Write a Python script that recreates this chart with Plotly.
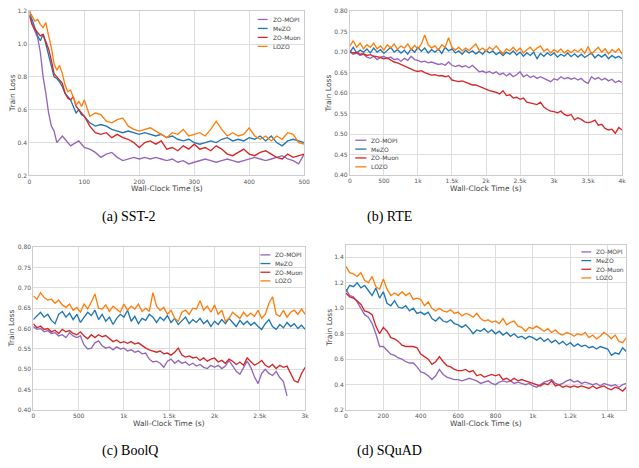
import plotly.graph_objects as go

W, H = 639, 468

# ---------------- data ----------------
names = ["ZO-MOPI", "MeZO", "ZO-Muon", "LOZO"]
colors = ["#9467bd", "#1f77b4", "#d62728", "#ff7f0e"]

# (a) SST-2: time grid 0..95 step 5, then 100..500 step 10
a_t = list(range(0, 100, 5)) + list(range(100, 501, 10))
a_mopi = [1.22, 1.12, 1.08, 1.04, 0.95, 0.80, 0.70, 0.58, 0.50, 0.47, 0.40, 0.42, 0.44, 0.42, 0.40, 0.38, 0.39, 0.40, 0.41, 0.39,
          0.37, 0.36, 0.34, 0.31, 0.33, 0.34, 0.31, 0.29, 0.30, 0.31, 0.30, 0.31, 0.30, 0.31, 0.30, 0.29, 0.30, 0.28, 0.29, 0.27,
          0.28, 0.29, 0.30, 0.29, 0.28, 0.29, 0.30, 0.29, 0.28, 0.29, 0.30, 0.31, 0.30, 0.29, 0.30, 0.31, 0.32, 0.30, 0.29, 0.27, 0.33]
a_mezo = [1.18, 1.15, 1.10, 1.05, 1.02, 1.06, 1.00, 0.93, 0.86, 0.80, 0.79, 0.77, 0.74, 0.70, 0.68, 0.66, 0.62, 0.58, 0.60, 0.57,
          0.56, 0.52, 0.50, 0.51, 0.50, 0.48, 0.47, 0.46, 0.47, 0.46, 0.45, 0.46, 0.45, 0.44, 0.45, 0.43, 0.44, 0.42, 0.41, 0.42,
          0.40, 0.39, 0.40, 0.41, 0.40, 0.42, 0.43, 0.41, 0.42, 0.41, 0.43, 0.42, 0.44, 0.41, 0.44, 0.40, 0.38, 0.41, 0.42, 0.41, 0.40]
a_muon = [1.17, 1.12, 1.09, 1.07, 1.05, 1.06, 1.02, 0.97, 0.90, 0.82, 0.80, 0.78, 0.76, 0.70, 0.67, 0.66, 0.68, 0.62, 0.60, 0.58,
          0.56, 0.50, 0.46, 0.45, 0.46, 0.43, 0.45, 0.43, 0.42, 0.40, 0.37, 0.40, 0.41, 0.39, 0.41, 0.36, 0.37, 0.35, 0.38, 0.36,
          0.39, 0.36, 0.37, 0.35, 0.38, 0.36, 0.33, 0.32, 0.34, 0.36, 0.33, 0.32, 0.34, 0.35, 0.33, 0.31, 0.30, 0.33, 0.31, 0.32, 0.33]
a_lozo = [1.20, 1.17, 1.14, 1.15, 1.12, 1.10, 1.13, 1.05, 0.98, 0.88, 0.84, 0.87, 0.82, 0.75, 0.71, 0.72, 0.68, 0.63, 0.65, 0.62,
          0.66, 0.56, 0.58, 0.57, 0.53, 0.52, 0.54, 0.55, 0.50, 0.48, 0.47, 0.48, 0.49, 0.47, 0.45, 0.43, 0.46, 0.45, 0.48, 0.44,
          0.45, 0.46, 0.44, 0.48, 0.53, 0.48, 0.44, 0.46, 0.44, 0.45, 0.49, 0.44, 0.42, 0.44, 0.41, 0.44, 0.42, 0.46, 0.45, 0.40, 0.39]

# (b) RTE: time step 50 s
b_step = 50
b_mopi = [0.700, 0.695, 0.698, 0.692, 0.695, 0.688, 0.685, 0.690, 0.682, 0.688, 0.690, 0.684, 0.688, 0.682, 0.684, 0.678, 0.685,
          0.680, 0.690, 0.682, 0.680, 0.676, 0.678, 0.674, 0.676, 0.672, 0.670, 0.672, 0.668, 0.676, 0.668, 0.665, 0.668, 0.664,
          0.667, 0.662, 0.668, 0.660, 0.652, 0.654, 0.650, 0.653, 0.648, 0.652, 0.645, 0.649, 0.642, 0.648, 0.640, 0.645, 0.652,
          0.640, 0.645, 0.638, 0.642, 0.636, 0.640, 0.636, 0.632, 0.628, 0.635, 0.632, 0.640, 0.635, 0.638, 0.634, 0.637, 0.632,
          0.636, 0.628, 0.624, 0.640, 0.634, 0.638, 0.632, 0.636, 0.630, 0.634, 0.626, 0.630, 0.626]
b_mezo = [0.700, 0.712, 0.698, 0.705, 0.700, 0.708, 0.698, 0.710, 0.700, 0.706, 0.697, 0.705, 0.712, 0.700, 0.706, 0.698, 0.705,
          0.695, 0.708, 0.700, 0.712, 0.702, 0.710, 0.698, 0.706, 0.700, 0.708, 0.697, 0.712, 0.703, 0.708, 0.698, 0.703, 0.695,
          0.705, 0.698, 0.703, 0.696, 0.702, 0.695, 0.705, 0.698, 0.703, 0.694, 0.700, 0.692, 0.700, 0.695, 0.703, 0.693, 0.700,
          0.690, 0.698, 0.692, 0.700, 0.684, 0.697, 0.690, 0.698, 0.692, 0.698, 0.688, 0.695, 0.690, 0.698, 0.689, 0.696, 0.688,
          0.695, 0.687, 0.693, 0.698, 0.686, 0.694, 0.688, 0.695, 0.684, 0.692, 0.686, 0.690, 0.684]
b_muon = [0.702, 0.698, 0.700, 0.695, 0.696, 0.692, 0.694, 0.690, 0.689, 0.686, 0.684, 0.686, 0.680, 0.676, 0.674, 0.670, 0.666,
          0.664, 0.660, 0.655, 0.653, 0.655, 0.650, 0.647, 0.644, 0.645, 0.642, 0.643, 0.640, 0.642, 0.632, 0.630, 0.628, 0.630,
          0.626, 0.622, 0.620, 0.620, 0.616, 0.612, 0.608, 0.606, 0.604, 0.602, 0.598, 0.606, 0.594, 0.596, 0.588, 0.590, 0.585,
          0.588, 0.578, 0.576, 0.574, 0.572, 0.578, 0.566, 0.560, 0.556, 0.555, 0.552, 0.556, 0.548, 0.545, 0.548, 0.535, 0.540,
          0.536, 0.530, 0.528, 0.530, 0.534, 0.522, 0.524, 0.514, 0.510, 0.512, 0.502, 0.516, 0.510]
b_lozo = [0.715, 0.728, 0.712, 0.722, 0.708, 0.718, 0.712, 0.722, 0.708, 0.715, 0.705, 0.718, 0.710, 0.720, 0.707, 0.715, 0.710,
          0.720, 0.706, 0.716, 0.708, 0.720, 0.742, 0.718, 0.710, 0.716, 0.705, 0.718, 0.712, 0.735, 0.712, 0.705, 0.712, 0.703,
          0.710, 0.704, 0.712, 0.720, 0.704, 0.710, 0.702, 0.712, 0.706, 0.715, 0.705, 0.696, 0.708, 0.703, 0.712, 0.702, 0.710,
          0.698, 0.706, 0.712, 0.702, 0.710, 0.715, 0.702, 0.708, 0.698, 0.706, 0.700, 0.708, 0.698, 0.705, 0.699, 0.706, 0.701,
          0.708, 0.697, 0.714, 0.695, 0.704, 0.712, 0.700, 0.708, 0.696, 0.706, 0.700, 0.708, 0.695]

# (c) BoolQ: time step 40 s
c_step = 40
c_mopi = [0.605, 0.598, 0.600, 0.592, 0.595, 0.588, 0.590, 0.582, 0.585, 0.578, 0.590, 0.582, 0.578, 0.582, 0.560, 0.550, 0.552,
          0.565, 0.570, 0.558, 0.552, 0.555, 0.548, 0.555, 0.550, 0.552, 0.545, 0.548, 0.542, 0.545, 0.538, 0.540, 0.525, 0.518,
          0.520, 0.515, 0.505, 0.520, 0.525, 0.515, 0.522, 0.515, 0.518, 0.510, 0.515, 0.508, 0.512, 0.505, 0.502, 0.510, 0.505,
          0.510, 0.502, 0.508, 0.522, 0.510, 0.495, 0.488, 0.505, 0.520, 0.505, 0.482, 0.465, 0.490, 0.500, 0.490, 0.485, 0.495,
          0.480, 0.470, 0.435]
c_mezo = [0.622, 0.630, 0.640, 0.628, 0.635, 0.620, 0.612, 0.635, 0.642, 0.628, 0.638, 0.622, 0.635, 0.615, 0.628, 0.640, 0.632,
          0.645, 0.622, 0.635, 0.618, 0.628, 0.610, 0.625, 0.635, 0.628, 0.645, 0.618, 0.630, 0.612, 0.625, 0.620, 0.635, 0.628,
          0.615, 0.628, 0.620, 0.632, 0.615, 0.625, 0.610, 0.620, 0.628, 0.612, 0.622, 0.615, 0.625, 0.612, 0.620, 0.605, 0.618,
          0.610, 0.622, 0.612, 0.625, 0.615, 0.605, 0.620, 0.610, 0.618, 0.608, 0.615, 0.605, 0.598, 0.612, 0.622, 0.605, 0.598,
          0.610, 0.602, 0.615, 0.605, 0.612, 0.600, 0.608, 0.598]
c_muon = [0.612, 0.602, 0.606, 0.598, 0.600, 0.592, 0.596, 0.588, 0.598, 0.592, 0.595, 0.588, 0.585, 0.592, 0.582, 0.575, 0.585,
          0.578, 0.585, 0.580, 0.583, 0.575, 0.568, 0.572, 0.565, 0.568, 0.564, 0.568, 0.562, 0.565, 0.558, 0.552, 0.548, 0.545,
          0.542, 0.545, 0.538, 0.540, 0.535, 0.542, 0.552, 0.535, 0.530, 0.533, 0.528, 0.530, 0.522, 0.528, 0.520, 0.525, 0.528,
          0.518, 0.522, 0.515, 0.525, 0.520, 0.512, 0.518, 0.510, 0.528, 0.520, 0.510, 0.515, 0.522, 0.510, 0.505, 0.512, 0.502,
          0.510, 0.505, 0.508, 0.490, 0.472, 0.468, 0.490, 0.505]
c_lozo = [0.680, 0.672, 0.688, 0.676, 0.670, 0.672, 0.662, 0.670, 0.658, 0.652, 0.660, 0.645, 0.652, 0.640, 0.660, 0.648, 0.665,
          0.685, 0.650, 0.648, 0.658, 0.642, 0.655, 0.648, 0.640, 0.660, 0.645, 0.655, 0.648, 0.660, 0.642, 0.650, 0.642, 0.688,
          0.655, 0.645, 0.652, 0.635, 0.645, 0.625, 0.618, 0.640, 0.645, 0.635, 0.650, 0.648, 0.668, 0.645, 0.655, 0.640, 0.658,
          0.635, 0.645, 0.618, 0.625, 0.640, 0.632, 0.625, 0.640, 0.630, 0.638, 0.630, 0.645, 0.625, 0.635, 0.662, 0.678, 0.635,
          0.630, 0.645, 0.628, 0.640, 0.645, 0.635, 0.648, 0.635]

# (d) SQuAD: time step 20 s
d_step = 20
d_mopi = [1.15, 1.10, 1.09, 1.05, 1.00, 0.95, 0.93, 0.88, 0.80, 0.70, 0.70, 0.67, 0.64, 0.63, 0.61, 0.60, 0.58, 0.57, 0.57, 0.54,
          0.50, 0.49, 0.47, 0.44, 0.47, 0.52, 0.48, 0.46, 0.45, 0.44, 0.44, 0.43, 0.44, 0.45, 0.44, 0.43, 0.41, 0.42, 0.43, 0.41,
          0.40, 0.42, 0.43, 0.42, 0.43, 0.41, 0.42, 0.41, 0.40, 0.41, 0.39, 0.38, 0.40, 0.42, 0.43, 0.44, 0.41, 0.40, 0.41, 0.43,
          0.44, 0.42, 0.43, 0.41, 0.42, 0.41, 0.40, 0.41, 0.39, 0.41, 0.40, 0.39, 0.40, 0.38, 0.40, 0.41]
d_mezo = [1.13, 1.18, 1.17, 1.20, 1.16, 1.18, 1.14, 1.10, 1.16, 1.08, 1.13, 1.04, 1.02, 1.06, 1.01, 1.00, 1.02, 0.98, 1.00, 0.96,
          0.97, 0.95, 0.97, 0.92, 0.90, 0.93, 0.90, 0.89, 0.91, 0.88, 0.87, 0.85, 0.87, 0.84, 0.80, 0.83, 0.82, 0.84, 0.81, 0.83,
          0.80, 0.82, 0.79, 0.81, 0.78, 0.80, 0.77, 0.78, 0.76, 0.78, 0.77, 0.75, 0.77, 0.74, 0.76, 0.73, 0.75, 0.72, 0.74, 0.71,
          0.73, 0.70, 0.72, 0.70, 0.71, 0.69, 0.70, 0.68, 0.70, 0.69, 0.68, 0.63, 0.65, 0.64, 0.69, 0.66]
d_muon = [1.12, 1.09, 1.08, 1.06, 1.03, 0.98, 0.97, 0.95, 0.86, 0.80, 0.85, 0.82, 0.77, 0.76, 0.74, 0.71, 0.70, 0.70, 0.70, 0.69,
          0.64, 0.62, 0.60, 0.56, 0.58, 0.62, 0.58, 0.55, 0.54, 0.52, 0.51, 0.51, 0.52, 0.50, 0.51, 0.47, 0.48, 0.46, 0.47, 0.48,
          0.47, 0.48, 0.44, 0.45, 0.43, 0.45, 0.43, 0.44, 0.43, 0.42, 0.41, 0.40, 0.39, 0.41, 0.40, 0.43, 0.39, 0.40, 0.38, 0.39,
          0.38, 0.39, 0.38, 0.39, 0.38, 0.37, 0.39, 0.37, 0.38, 0.39, 0.37, 0.36, 0.38, 0.37, 0.35, 0.38]
d_lozo = [1.33, 1.28, 1.27, 1.25, 1.28, 1.22, 1.20, 1.25, 1.17, 1.15, 1.23, 1.15, 1.10, 1.12, 1.10, 1.13, 1.10, 1.12, 1.07, 1.08,
          1.07, 1.02, 1.05, 1.00, 0.98, 1.00, 0.98, 0.97, 0.99, 0.96, 0.97, 0.94, 0.96, 0.95, 0.93, 0.96, 0.92, 0.90, 0.91, 0.89,
          0.90, 0.88, 0.92, 0.87, 0.89, 0.90, 0.86, 0.85, 0.82, 0.85, 0.84, 0.86, 0.84, 0.82, 0.84, 0.81, 0.83, 0.80, 0.79, 0.81,
          0.80, 0.78, 0.80, 0.79, 0.81, 0.77, 0.79, 0.76, 0.78, 0.81, 0.79, 0.76, 0.79, 0.74, 0.73, 0.77]

# tick definitions
a_xticks = [0, 100, 200, 300, 400, 500]
a_xlabels = ["0", "100", "200", "300", "400", "500"]
a_yticks = [0.2, 0.4, 0.6, 0.8, 1.0, 1.2]
a_ylabels = ["0.2", "0.4", "0.6", "0.8", "1.0", "1.2"]
b_xticks = [0, 500, 1000, 1500, 2000, 2500, 3000, 3500, 4000]
b_xlabels = ["0", "500", "1k", "1.5k", "2k", "2.5k", "3k", "3.5k", "4k"]
bc_yticks = [0.40, 0.45, 0.50, 0.55, 0.60, 0.65, 0.70, 0.75, 0.80]
bc_ylabels = ["0.40", "0.45", "0.50", "0.55", "0.60", "0.65", "0.70", "0.75", "0.80"]
c_xticks = [0, 500, 1000, 1500, 2000, 2500, 3000]
c_xlabels = ["0", "500", "1k", "1.5k", "2k", "2.5k", "3k"]
d_xticks = [0, 200, 400, 600, 800, 1000, 1200, 1400]
d_xlabels = ["0", "200", "400", "600", "800", "1k", "1.2k", "1.4k"]
d_yticks = [0.2, 0.4, 0.6, 0.8, 1.0, 1.2, 1.4]
d_ylabels = ["0.2", "0.4", "0.6", "0.8", "1.0", "1.2", "1.4"]

captions = ["(a) SST-2", "(b) RTE", "(c) BoolQ", "(d) SQuAD"]


def grid(step, n):
    return [i * step for i in range(n)]


panels = [
    dict(series=[(a_t[:len(a_mopi)], a_mopi), (a_t, a_mezo), (a_t, a_muon), (a_t, a_lozo)],
         box=(27.7, 7.3, 306, 174), xr=[0, 500], yr=[0.2, 1.2],
         xt=(a_xticks, a_xlabels), yt=(a_yticks, a_ylabels), ytx=10,
         legend=(259, 269, 15.7, 9.1), cap=(129, 216)),
    dict(series=[(grid(b_step, len(s)), s) for s in (b_mopi, b_mezo, b_muon, b_lozo)],
         box=(352.3, 7.3, 628, 173.7), xr=[0, 4000], yr=[0.40, 0.80],
         xt=(b_xticks, b_xlabels), yt=(bc_yticks, bc_ylabels), ytx=330.5,
         legend=(357.7, 369, 138.3, 9.0), cap=(392, 216)),
    dict(series=[(grid(c_step, len(s)), s) for s in (c_mopi, c_mezo, c_muon, c_lozo)],
         box=(31.7, 246.7, 307, 412.3), xr=[0, 3000], yr=[0.40, 0.80],
         xt=(c_xticks, c_xlabels), yt=(bc_yticks, bc_ylabels), ytx=10,
         legend=(261.7, 271.7, 254.7, 8.8), cap=(130, 454)),
    dict(series=[(grid(d_step, len(s)), s) for s in (d_mopi, d_mezo, d_muon, d_lozo)],
         box=(348.3, 244.3, 632.3, 412.3), xr=[0, 1500], yr=[0.2, 1.5],
         xt=(d_xticks, d_xlabels), yt=(d_yticks, d_ylabels), ytx=331.5,
         legend=(586.7, 596.7, 251.7, 8.8), cap=(392, 454)),
]

fig = go.Figure()
shapes = []
annotations = []
tick_font = dict(family="DejaVu Sans", size=6, color="#555555")
title_font = dict(family="DejaVu Sans", size=7.5, color="#444444")

for i, p in enumerate(panels):
    k = "" if i == 0 else str(i + 1)
    xa, ya = "x" + k, "y" + k
    for (xs, ys), nm, col in zip(p["series"], names, colors):
        fig.add_trace(go.Scatter(x=xs, y=ys, mode="lines", name=nm, showlegend=False,
                                 line=dict(color=col, width=1.35), xaxis=xa, yaxis=ya))
    x0, y0, x1, y1 = p["box"]
    common = dict(showgrid=True, gridcolor="#dddddd", gridwidth=1, showline=True, linecolor="#cccccc",
                  linewidth=1, mirror=True, zeroline=False, ticks="", tickfont=tick_font, tickmode="array")
    fig.layout["xaxis" + k] = dict(domain=[x0 / W, x1 / W], range=p["xr"], anchor=ya,
                                   tickvals=p["xt"][0], ticktext=p["xt"][1], **common)
    fig.layout["yaxis" + k] = dict(domain=[1 - y1 / H, 1 - y0 / H], range=p["yr"], anchor=xa,
                                   tickvals=p["yt"][0], ticktext=p["yt"][1], **common)
    # axis titles
    annotations.append(dict(x=(x0 + x1) / 2 / W, y=1 - (y1 + 13.7) / H, xref="paper", yref="paper",
                            text="Wall-Clock Time (s)", showarrow=False, font=title_font,
                            xanchor="center", yanchor="middle"))
    annotations.append(dict(x=p["ytx"] / W, y=1 - (y0 + y1) / 2 / H, xref="paper", yref="paper",
                            text="Train Loss", showarrow=False, font=title_font, textangle=-90,
                            xanchor="center", yanchor="middle"))
    # manual legend
    lx0, lx1, ly, dy = p["legend"]
    for j, (nm, col) in enumerate(zip(names, colors)):
        yy = ly + j * dy
        shapes.append(dict(type="line", xref="paper", yref="paper", x0=lx0 / W, x1=lx1 / W,
                           y0=1 - yy / H, y1=1 - yy / H, line=dict(color=col, width=1.3)))
        annotations.append(dict(x=(lx1 + 3) / W, y=1 - yy / H, xref="paper", yref="paper", text=nm,
                                showarrow=False, font=dict(family="DejaVu Sans", size=6, color="#444444"),
                                xanchor="left", yanchor="middle"))
    # caption
    cx, cy = p["cap"]
    annotations.append(dict(x=cx / W, y=1 - cy / H, xref="paper", yref="paper", text=captions[i],
                            showarrow=False, font=dict(family="Liberation Serif", size=14, color="#000000"),
                            xanchor="center", yanchor="middle"))

fig.update_layout(width=W, height=H, margin=dict(l=0, r=0, t=0, b=0), paper_bgcolor="white",
                  plot_bgcolor="white", showlegend=False, shapes=shapes, annotations=annotations)

fig.write_html("out.html")
